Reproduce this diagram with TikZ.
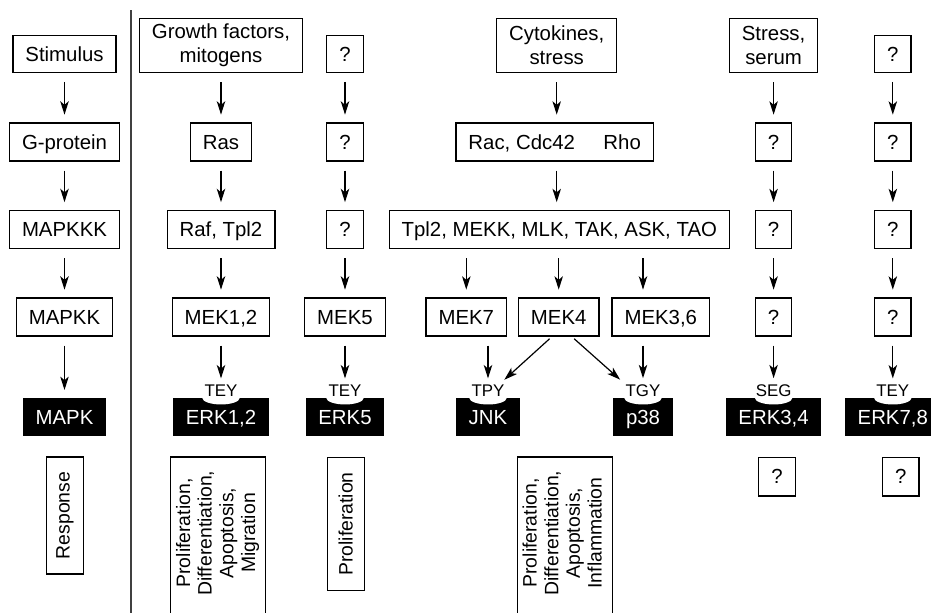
\documentclass[tikz,border=0pt]{standalone}
\usepackage{fontspec}
\setmainfont{Liberation Sans}
\usetikzlibrary{arrows.meta}

\begin{document}
\begin{tikzpicture}[x=0.7113pt,y=-0.7113pt,
    box/.style={rectangle,draw,line width=0.9pt,inner xsep=8.9pt,inner ysep=0pt,minimum height=27pt,text height=12pt,text depth=2pt,font=\fontsize{14.5}{17}\selectfont},
    boxtwo/.style={rectangle,draw,line width=0.9pt,inner xsep=8.9pt,inner ysep=0pt,minimum height=38.7pt,align=center,font=\fontsize{14.5}{17}\selectfont},
    kinase/.style={rectangle,fill=black,text=white,inner xsep=8.9pt,inner ysep=0pt,minimum height=27pt,text height=13pt,text depth=2pt,font=\fontsize{14.5}{17}\selectfont},
    site/.style={inner sep=1.5pt,anchor=base,font=\fontsize{12}{14}\selectfont},
    resp/.style={rectangle,draw,line width=0.9pt,rotate=90,inner sep=0pt,minimum height=26.5pt,font=\fontsize{13.8}{15.4}\selectfont},
    flow/.style={-{Stealth[length=9.5pt,width=6pt,inset=2.5pt]},line width=0.85pt,shorten <=6.4pt,shorten >=5.5pt}]
    \useasboundingbox (0,0) rectangle (931,613);

    \coordinate (divtop) at (131,10);
    \coordinate (divbot) at (131,613);
    \draw[line width=1pt,black!75] (divtop) -- (divbot);

    % general module
    \node[box,minimum height=26pt] (stim) at (64.5,54) {Stimulus};
    \node[box] (gprot) at (64.5,142) {G-protein};
    \node[box] (mapkkk) at (64.5,229.5) {MAPKKK};
    \node[box] (mapkk) at (64.5,317) {MAPKK};
    \node[kinase] (mapk) at (64.5,417) {MAPK};
    \node[resp,minimum width=83.2pt] (resp1) at (65,515.5) {Response};

    \draw[flow] (stim) -- (gprot);
    \draw[flow] (gprot) -- (mapkkk);
    \draw[flow] (mapkkk) -- (mapkk);
    \draw[flow] (mapkk) -- (mapk);

    % ERK1,2
    \node[boxtwo] (growth) at (221,45.5) {Growth factors,\\mitogens};
    \node[box] (ras) at (221,142) {Ras};
    \node[box] (raf) at (221,229.5) {Raf, Tpl2};
    \node[box] (mek12) at (221,317) {MEK1,2};
    \node[kinase] (erk12) at (221,417) {ERK1,2};
    \fill[white] (erk12.north) ellipse [x radius=13.4pt,y radius=4.8pt];
    \node[site] (tey12) at ([yshift=0.8pt]erk12.north) {TEY};
    \node[resp,minimum width=121pt,minimum height=67.6pt] (resp2) at (218.2,542) {\kern12.8pt\begin{tabular}{@{}c@{}}Proliferation,\\Differentiation,\\Apoptosis,\\Migration\end{tabular}};

    \draw[flow] (growth) -- (ras);
    \draw[flow] (ras) -- (raf);
    \draw[flow] (raf) -- (mek12);
    \draw[flow,shorten >=3pt] (mek12) -- (tey12);

    % ERK5
    \node[box,minimum height=26pt] (qa5) at (345,54) {?};
    \node[box] (qb5) at (345,142) {?};
    \node[box] (qc5) at (345,229.5) {?};
    \node[box] (mek5) at (345,317) {MEK5};
    \node[kinase] (erk5) at (345,417) {ERK5};
    \fill[white] (erk5.north) ellipse [x radius=13.4pt,y radius=4.8pt];
    \node[site] (tey5) at ([yshift=0.8pt]erk5.north) {TEY};
    \node[resp,minimum width=95.1pt] (resp3) at (345.8,524) {Proliferation};

    \draw[flow] (qa5) -- (qb5);
    \draw[flow] (qb5) -- (qc5);
    \draw[flow] (qc5) -- (mek5);
    \draw[flow,shorten >=3pt] (mek5) -- (tey5);

    % JNK and p38
    \node[boxtwo] (cyto) at (556.7,45.5) {Cytokines,\\stress};
    \node[box] (rac) at (554.7,142) {Rac, Cdc42\hspace{1.4em}Rho\hspace{0.85em}};
    \node[box] (tpl2) at (559.3,229.5) {Tpl2, MEKK, MLK, TAK, ASK, TAO};
    \node[box] (mek7) at (466.3,317) {MEK7};
    \node[box] (mek4) at (558.7,317) {MEK4};
    \node[box] (mek36) at (660.8,317) {MEK3,6};
    \node[kinase] (jnk) at (488,417) {JNK};
    \fill[white] (jnk.north) ellipse [x radius=13.4pt,y radius=4.8pt];
    \node[site] (tpy) at ([yshift=0.8pt]jnk.north) {TPY};
    \node[kinase] (p38) at (643,417) {p38};
    \fill[white] (p38.north) ellipse [x radius=13.4pt,y radius=4.8pt];
    \node[site] (tgy) at ([yshift=0.8pt]p38.north) {TGY};
    \node[resp,minimum width=121pt,minimum height=67.6pt] (resp4) at (564.8,542) {\kern12.8pt\begin{tabular}{@{}c@{}}Proliferation,\\Differentiation,\\Apoptosis,\\Inflammation\end{tabular}};

    \draw[flow] (cyto) -- (cyto |- rac.north);
    \draw[flow] (rac.south -| cyto) -- (tpl2.north -| cyto);
    \draw[flow] (tpl2.south -| mek7) -- (mek7);
    \draw[flow] (tpl2.south -| mek4) -- (mek4);
    \draw[flow] (tpl2.south -| tgy) -- (mek36.north -| tgy);
    \draw[flow,shorten >=3pt] (mek7.south -| tpy) -- (tpy);
    \draw[flow,shorten <=2.3pt,shorten >=3pt] ([xshift=-4.8pt]mek4.south) -- ([xshift=-4pt]tpy.north east);
    \draw[flow,shorten <=2.3pt,shorten >=3pt] ([xshift=9.3pt]mek4.south) -- (tgy.north west);
    \draw[flow,shorten >=3pt] (mek36.south -| tgy) -- (tgy);

    % ERK3,4
    \node[boxtwo] (stress) at (773.6,45.5) {Stress,\\serum};
    \node[box] (qb34) at (773.6,142) {?};
    \node[box] (qc34) at (773.6,229.5) {?};
    \node[box] (qd34) at (773.6,317) {?};
    \node[kinase] (erk34) at (773.6,417) {ERK3,4};
    \fill[white] (erk34.north) ellipse [x radius=13.4pt,y radius=4.8pt];
    \node[site] (seg) at ([yshift=0.8pt]erk34.north) {SEG};
    \node[box,minimum height=27.5pt] (qr34) at (777,476.7) {?};

    \draw[flow] (stress) -- (qb34);
    \draw[flow] (qb34) -- (qc34);
    \draw[flow] (qc34) -- (qd34);
    \draw[flow,shorten >=3pt] (qd34) -- (seg);

    % ERK7,8
    \node[box,minimum height=26pt] (qa78) at (892.8,54) {?};
    \node[box] (qb78) at (892.8,142) {?};
    \node[box] (qc78) at (892.8,229.5) {?};
    \node[box] (qd78) at (892.8,317) {?};
    \node[kinase] (erk78) at (892.8,417) {ERK7,8};
    \fill[white] (erk78.north) ellipse [x radius=13.4pt,y radius=4.8pt];
    \node[site] (tey78) at ([yshift=0.8pt]erk78.north) {TEY};
    \node[box,minimum height=27.5pt] (qr78) at (900.8,476.7) {?};

    \draw[flow] (qa78) -- (qb78);
    \draw[flow] (qb78) -- (qc78);
    \draw[flow] (qc78) -- (qd78);
    \draw[flow,shorten >=3pt] (qd78) -- (tey78);
\end{tikzpicture}
\end{document}
